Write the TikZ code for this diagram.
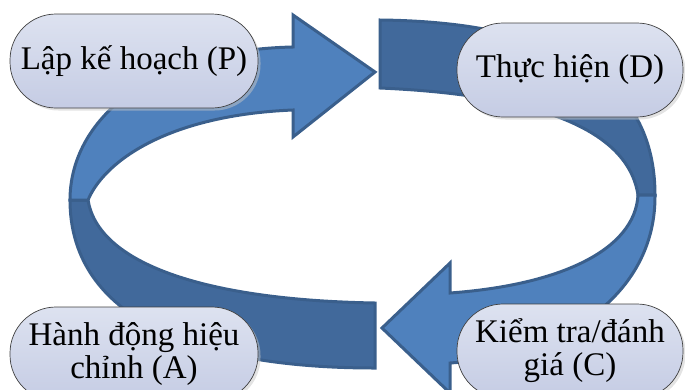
\documentclass[tikz,border=0pt]{standalone}
\usepackage{fontspec}
\setmainfont{Liberation Serif}
\usetikzlibrary{shadows}

\definecolor{arrowfill}{HTML}{4F81BD}
\definecolor{bandfill}{HTML}{41699B}
\definecolor{arrowline}{HTML}{3A5F8C}
\definecolor{pilltop}{HTML}{DDE2F0}
\definecolor{pillbottom}{HTML}{C5CCE4}

\begin{document}
\begin{tikzpicture}[x=1pt,y=-1pt,
  arrowlight/.style={fill=arrowfill,draw=arrowline,line width=3pt},
  banddark/.style={fill=bandfill,draw=arrowline,line width=3pt},
  pill/.style={rectangle,rounded corners=46pt,draw=black!75,line width=0.7pt,
    top color=pilltop,bottom color=pillbottom,inner sep=0pt,align=center,
    minimum height=94pt,font=\fontsize{33}{33}\selectfont,
    drop shadow={shadow xshift=2.5pt,shadow yshift=-2.5pt,fill=black!22}}]
\useasboundingbox (0,0) rectangle (685,389);
\clip (0,0) rectangle (685,389);
% back bands
\draw[banddark] (380,20) .. controls (560,22) and (655,80) .. (655,195)
  -- (638,195) .. controls (628,130) and (540,95) .. (380,88) -- cycle;
\draw[banddark] (375,303) -- (375,368) .. controls (180,368) and (70,310) .. (70,200)
  -- (88,200) .. controls (98,262) and (200,300) .. (375,303) -- cycle;
% front arrows
\draw[arrowlight] (70,200) .. controls (70,120) and (150,50) .. (293,47)
  -- (293,15) -- (375,72) -- (293,137) -- (293,110)
  .. controls (170,115) and (105,160) .. (88,200) -- cycle;
\draw[arrowlight] (655,195) .. controls (656,290) and (570,355) .. (450,363)
  -- (450,393) -- (382,328) -- (450,263) -- (450,293)
  .. controls (560,285) and (635,250) .. (638,195) -- cycle;
% steps
\node[pill,minimum width=248pt] (plan) at (134,61) {Lập kế hoạch (P)};
\node[pill,minimum width=226pt] (do) at (570,70) {Thực hiện (D)};
\node[pill,minimum width=226pt] (check) at (570,351) {Kiểm tra/đánh\\giá (C)};
\node[pill,minimum width=248pt] (act) at (134,354) {Hành động hiệu\\chỉnh (A)};
\end{tikzpicture}
\end{document}
